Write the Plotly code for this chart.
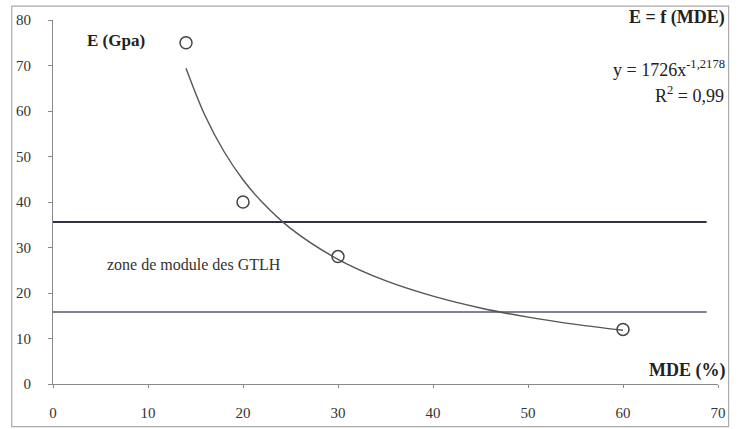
import plotly.graph_objects as go

# Measured points
mde = [14, 20, 30, 60]
modulus = [75, 40, 28, 12]

# Trend curve (power fit)
trend_x = [14, 16, 18, 20, 22, 25, 30, 35, 40, 45, 50, 55, 60]
trend_y = [69.4, 59.0, 51.1, 44.9, 40.0, 34.2, 27.4, 22.7, 19.3, 16.7, 14.7, 13.1, 11.8]

# Zone limits
zone_upper = 35.6
zone_lower = 15.8
zone_x = [0, 68.8]

x_ticks = [0, 10, 20, 30, 40, 50, 60, 70]
y_ticks = [0, 10, 20, 30, 40, 50, 60, 70, 80]

SERIF = "Liberation Serif"

fig = go.Figure()
fig.add_trace(go.Scatter(x=zone_x, y=[zone_upper, zone_upper], mode="lines",
                         line=dict(color="#2f3345", width=2), hoverinfo="skip"))
fig.add_trace(go.Scatter(x=zone_x, y=[zone_lower, zone_lower], mode="lines",
                         line=dict(color="#555a66", width=1.5), hoverinfo="skip"))
fig.add_trace(go.Scatter(x=trend_x, y=trend_y, mode="lines",
                         line=dict(color="#555", width=1.4, shape="spline"), hoverinfo="skip"))
fig.add_trace(go.Scatter(x=mde, y=modulus, mode="markers",
                         marker=dict(symbol="circle-open", size=12, color="#444",
                                     line=dict(width=1.5, color="#444"))))

fig.update_layout(
    width=744, height=429,
    margin=dict(l=53, r=26, t=20, b=45),
    paper_bgcolor="white", plot_bgcolor="white",
    showlegend=False,
    font=dict(family=SERIF, size=15, color="#333"),
    xaxis=dict(range=[0, 70], tickvals=x_ticks, showgrid=False, zeroline=False,
               automargin=False,
               showline=True, linecolor="#888", linewidth=1,
               ticks="outside", ticklen=3, tickcolor="#888",
               ticklabelstandoff=12, tickfont=dict(family=SERIF, size=15, color="#333")),
    yaxis=dict(range=[0, 80], tickvals=y_ticks, showgrid=False, zeroline=False,
               automargin=False,
               showline=True, linecolor="#888", linewidth=1,
               ticks="outside", ticklen=4, tickcolor="#888",
               ticklabelstandoff=14, tickfont=dict(family=SERIF, size=15, color="#333")),
    shapes=[dict(type="rect", xref="paper", yref="paper",
                 x0=-0.062, x1=1.016, y0=-0.117, y1=1.038,
                 line=dict(color="#aaa", width=1.2), fillcolor="rgba(0,0,0,0)")],
    annotations=[
        dict(text="<b>E (Gpa)</b>", x=6.6, y=75.6, xref="x", yref="y", showarrow=False,
             xanchor="center", yanchor="middle",
             font=dict(family=SERIF, size=17, color="#222")),
        dict(text="<b>E = f (MDE)</b>", x=1.0135, y=1.0055, xref="paper", yref="paper",
             xanchor="right", yanchor="middle", showarrow=False,
             font=dict(family=SERIF, size=18, color="#222")),
        dict(text="y = 1726x<sup>-1,2178</sup>", x=1.0135, y=0.868, xref="paper", yref="paper",
             xanchor="right", yanchor="middle", showarrow=False,
             font=dict(family=SERIF, size=18, color="#222")),
        dict(text="R<sup>2</sup> = 0,99", x=1.012, y=0.794, xref="paper", yref="paper",
             xanchor="right", yanchor="middle", showarrow=False,
             font=dict(family=SERIF, size=18, color="#222")),
        dict(text="zone de module des GTLH", x=5.5, y=26.2, xref="x", yref="y",
             xanchor="left", yanchor="middle", showarrow=False,
             font=dict(family=SERIF, size=16, color="#333")),
        dict(text="<b>MDE (%)</b>", x=1.0135, y=0.038, xref="paper", yref="paper",
             xanchor="right", yanchor="middle", showarrow=False,
             font=dict(family=SERIF, size=18, color="#222")),
    ],
)

fig.write_html("out.html", config={"displayModeBar": False},
               post_script="document.body.style.margin='0px';")
